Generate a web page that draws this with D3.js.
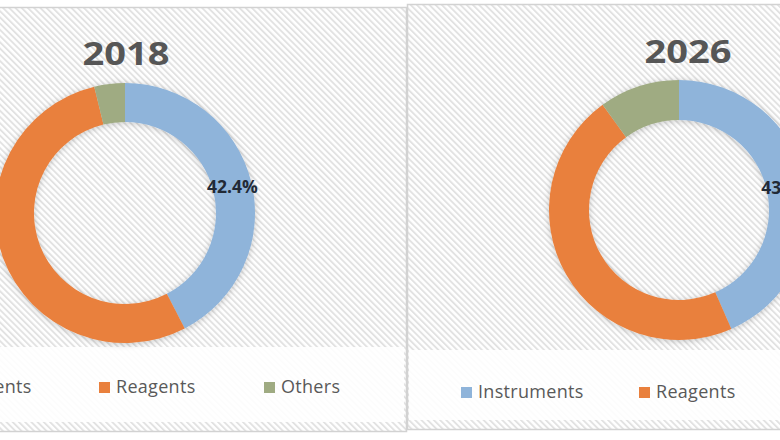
<!DOCTYPE html>
<html>
<head>
<meta charset="utf-8">
<script src="https://cdn.jsdelivr.net/npm/d3@7"></script>
<style>
  html, body { margin: 0; padding: 0; background: #ffffff; }
  svg { display: block; }
</style>
</head>
<body>
<svg id="chart" width="780" height="440"></svg>
<script>
// ---- data ----
const years = ["2018", "2026"];
const categories = ["Instruments", "Reagents", "Others"];
const values2018 = [42.4, 53.8, 3.8];
const values2026 = [43.4, 46.6, 10.0];
const labelShown = ["Instruments"];

// ---- styles ----
const colors = d3.scaleOrdinal().domain(categories).range(["#8fb4da", "#e9803d", "#9fab82"]);

const svg = d3.select("#chart");
const defs = svg.append("defs");

const pat = defs.append("pattern")
  .attr("id", "hatch")
  .attr("patternUnits", "userSpaceOnUse")
  .attr("width", 4.4).attr("height", 4.4)
  .attr("patternTransform", "rotate(-45)");
pat.append("rect").attr("width", 4.4).attr("height", 4.4).attr("fill", "#ffffff");
pat.append("rect").attr("width", 1.9).attr("height", 4.4).attr("fill", "#e2e2e2");

const filt = defs.append("filter").attr("id", "shadow")
  .attr("x", "-20%").attr("y", "-20%").attr("width", "140%").attr("height", "140%");
filt.append("feDropShadow")
  .attr("dx", 0).attr("dy", 1).attr("stdDeviation", 3)
  .attr("flood-color", "#000").attr("flood-opacity", 0.22);

const panels = [
  { year: years[0], values: values2018, box: [-20, 7, 426, 424], plotBottom: 347,
    cx: 125, cy: 213, R: 130, r: 91, titleX: 126, titleY: 65,
    legendY: 382, legendX: [-91, 99, 264] },
  { year: years[1], values: values2026, box: [407, 4, 400, 425], plotBottom: 350,
    cx: 679, cy: 210, R: 130, r: 90, titleX: 688, titleY: 63,
    legendY: 387, legendX: [461, 639, 817] }
];

const pie = d3.pie().sort(null).value(d => d);

panels.forEach(p => {
  const g = svg.append("g");
  const [bx, by, bw, bh] = p.box;
  // panel background
  g.append("rect")
    .attr("x", bx + 0.5).attr("y", by + 0.5)
    .attr("width", bw).attr("height", bh)
    .attr("fill", "url(#hatch)")
    .attr("stroke", "#d2d2d2").attr("stroke-width", 1.5);
  // legend band
  g.append("rect")
    .attr("x", bx + 2).attr("y", p.plotBottom)
    .attr("width", bw - 4).attr("height", by + bh - p.plotBottom - 9)
    .attr("fill", "#ffffff").attr("opacity", 0.9);

  // title
  g.append("text")
    .attr("x", p.titleX).attr("y", p.titleY)
    .attr("text-anchor", "middle")
    .attr("font-family", "'Open Sans', sans-serif")
    .attr("font-weight", 700)
    .attr("font-size", 33)
    .attr("textLength", 87)
    .attr("lengthAdjust", "spacingAndGlyphs")
    .attr("fill", "#565656")
    .text(p.year);

  // donut
  const arc = d3.arc().innerRadius(p.r).outerRadius(p.R);
  const labelArc = d3.arc().innerRadius(p.r).outerRadius(p.R);
  const arcs = pie(p.values).map((a, i) => Object.assign(a, { cat: categories[i] }));
  const dg = g.append("g").attr("transform", `translate(${p.cx},${p.cy})`);
  dg.append("g").attr("filter", "url(#shadow)")
    .selectAll("path").data(arcs).join("path")
    .attr("d", arc)
    .attr("fill", d => colors(d.cat));

  dg.selectAll("text.lbl").data(arcs.filter(d => labelShown.includes(d.cat))).join("text")
    .attr("class", "lbl")
    .attr("transform", d => `translate(${labelArc.centroid(d)})`)
    .attr("text-anchor", "middle")
    .attr("dy", "0.36em")
    .attr("font-family", "'Open Sans', sans-serif")
    .attr("font-weight", 700)
    .attr("font-size", 17.5)
    .attr("fill", "#222a36")
    .text(d => d.value.toFixed(1) + "%");

  // legend
  const lg = g.append("g");
  categories.forEach((c, i) => {
    const x = p.legendX[i];
    lg.append("rect")
      .attr("x", x).attr("y", p.legendY)
      .attr("width", 11).attr("height", 11)
      .attr("fill", colors(c));
    lg.append("text")
      .attr("x", x + 17).attr("y", p.legendY + 11)
      .attr("font-family", "'Open Sans', sans-serif")
      .attr("font-size", 18)
      .attr("letter-spacing", 0.3)
      .attr("fill", "#595959")
      .text(c);
  });
});
</script>
</body>
</html>
